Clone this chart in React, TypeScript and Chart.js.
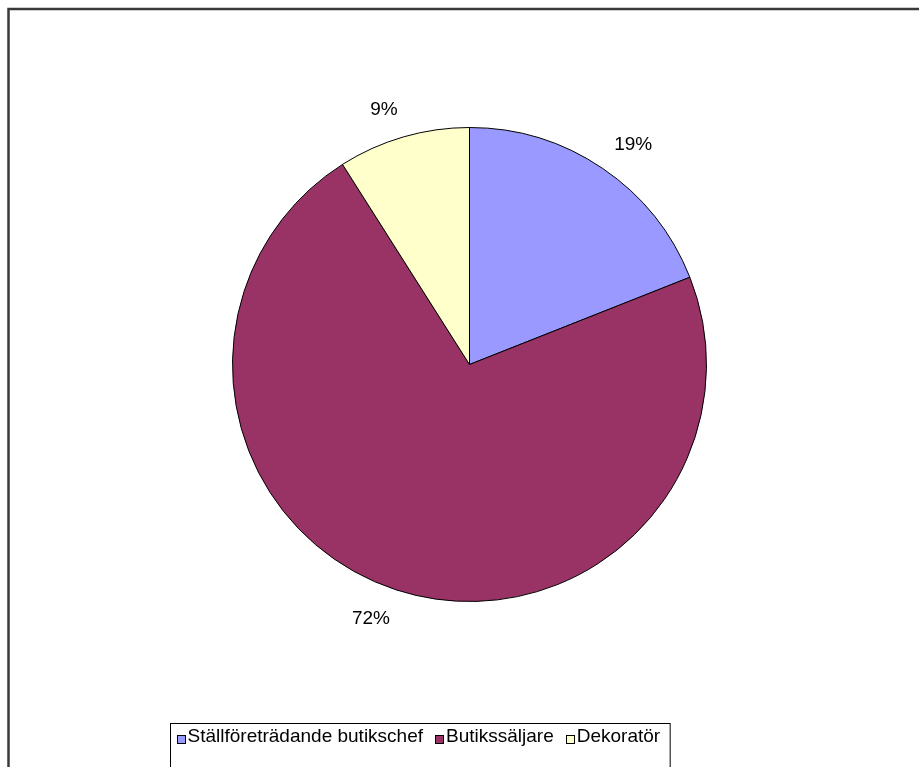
import React, { useEffect, useRef } from "react";
import { Chart, registerables } from "chart.js";

Chart.register(...registerables);

const categories = ["Ställföreträdande butikschef", "Butikssäljare", "Dekoratör"];
const values = [19, 72, 9];
const colors = ["#9999FF", "#993366", "#FFFFCC"];

const FONT = '19px "Liberation Sans", Arial, sans-serif';

const framePlugin = {
  id: "frame",
  beforeDraw(chart: any) {
    const ctx = chart.ctx;
    ctx.save();
    ctx.fillStyle = "#ffffff";
    ctx.fillRect(0, 0, chart.width, chart.height);
    ctx.strokeStyle = "#3a3a3a";
    ctx.lineWidth = 2.5;
    ctx.beginPath();
    ctx.moveTo(8.5, chart.height + 5);
    ctx.lineTo(8.5, 9);
    ctx.lineTo(chart.width + 5, 9);
    ctx.stroke();
    ctx.restore();
  },
};

const labelPlugin = {
  id: "pctLabels",
  afterDatasetsDraw(chart: any) {
    const ctx = chart.ctx;
    const meta = chart.getDatasetMeta(0);
    const total = values.reduce((a, b) => a + b, 0);
    ctx.save();
    ctx.font = FONT;
    ctx.fillStyle = "#000000";
    ctx.textAlign = "center";
    ctx.textBaseline = "middle";
    const h = 16;
    meta.data.forEach((arc: any, i: number) => {
      const { startAngle, endAngle, outerRadius, x, y } = arc.getProps(
        ["startAngle", "endAngle", "outerRadius", "x", "y"],
        true
      );
      const mid = (startAngle + endAngle) / 2;
      const d = outerRadius + 20.5;
      const ux = Math.cos(mid);
      const uy = Math.sin(mid);
      const pct = Math.round((values[i] / total) * 100) + "%";
      const w = ctx.measureText(pct).width;
      const tx = x + ux * d + Math.sign(ux) * (w / 2);
      const ty = y + uy * d + Math.sign(uy) * (h / 2);
      ctx.fillText(pct, tx, ty + 1);
    });
    ctx.restore();
  },
};

const legendPlugin = {
  id: "customLegend",
  afterDraw(chart: any) {
    const ctx = chart.ctx;
    ctx.save();
    ctx.font = FONT;
    const boxLeft = 170.5;
    const boxTop = 723.5;
    const sq = 9;
    const padL = 6;
    const gapSqText = 2;
    const itemGap = 12;
    let x = boxLeft + padL;
    const textY = 737;
    const sqCy = 739.5;
    const items: { sx: number; tx: number; w: number }[] = [];
    categories.forEach((c) => {
      const w = ctx.measureText(c).width;
      items.push({ sx: x, tx: x + sq + gapSqText, w });
      x += sq + gapSqText + w + itemGap;
    });
    const boxRight = x - itemGap + 10;
    ctx.strokeStyle = "#000000";
    ctx.lineWidth = 1;
    ctx.fillStyle = "#ffffff";
    ctx.fillRect(boxLeft, boxTop, boxRight - boxLeft, chart.height);
    ctx.strokeRect(boxLeft, boxTop, boxRight - boxLeft, chart.height);
    items.forEach((it, i) => {
      const sx = Math.round(it.sx);
      const sy = Math.round(sqCy - sq / 2);
      ctx.fillStyle = colors[i];
      ctx.fillRect(sx, sy, sq, sq);
      ctx.strokeStyle = "#000000";
      ctx.strokeRect(sx + 0.5, sy + 0.5, sq - 1, sq - 1);
      ctx.fillStyle = "#000000";
      ctx.textBaseline = "middle";
      ctx.textAlign = "left";
      ctx.fillText(categories[i], it.tx, textY);
    });
    ctx.restore();
  },
};

export default function App() {
  const ref = useRef<HTMLCanvasElement | null>(null);
  useEffect(() => {
    if (!ref.current) return;
    const chart = new Chart(ref.current, {
      type: "pie",
      data: {
        labels: categories,
        datasets: [
          {
            data: values,
            backgroundColor: colors,
            borderColor: "#000000",
            borderWidth: 1,
          },
        ],
      },
      options: {
        responsive: false,
        animation: false,
        layout: { padding: { left: 232, right: 212, top: 127, bottom: 165 } },
        plugins: {
          legend: { display: false },
          tooltip: { enabled: false },
        },
      },
      plugins: [framePlugin, labelPlugin, legendPlugin],
    });
    return () => chart.destroy();
  }, []);
  return (
    <div style={{ position: "absolute", left: 0, top: 0, width: 919, height: 767 }}>
      <canvas ref={ref} width={919} height={767} style={{ width: 919, height: 767 }} />
    </div>
  );
}
